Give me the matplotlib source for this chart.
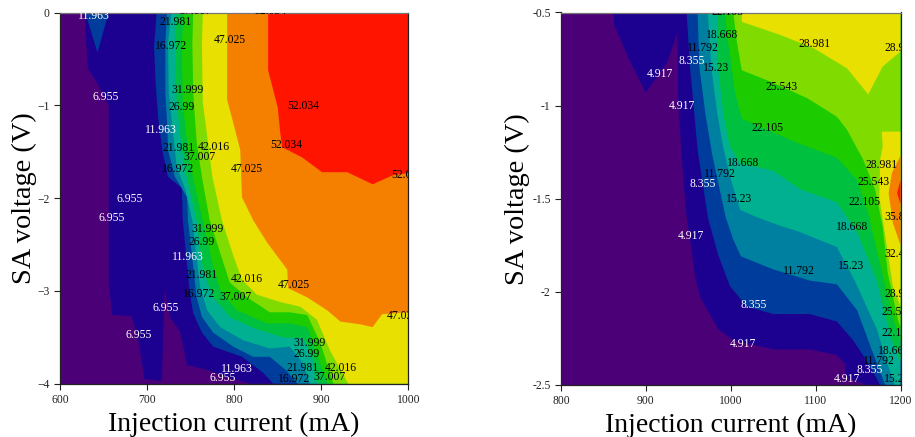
#!/usr/bin/env python3
"""Contour maps of SA voltage vs injection current, two devices."""

import matplotlib

matplotlib.use("Agg")
import matplotlib.pyplot as plt

plt.rcParams["font.family"] = ["Liberation Serif", "DejaVu Serif"]

band_colors = [
    "#4b0078", "#1c0090", "#003c9c", "#0080a0", "#00b090", "#00c040",
    "#1ccc00", "#80dc00", "#e8e000", "#f58000", "#ff1400",
]

# left map: current (mA) and voltage (V) along each contour, walked from top
left_i_06955 = [628, 630, 632, 644, 656, 656, 656, 660, 682, 690, 697, 717, 720, 726, 738, 746, 769, 792, 818, 1000, 1000]
left_v_06955 = [0, -0.29, -0.60, -0.78, -1.0, -1.3, -2.93, -3.26, -3.27, -3.53, -3.95, -3.97, -2.98, -3.28, -3.44, -3.80, -3.85, -3.93, -4, -4, 0]
left_i_11963 = [711, 708, 710, 713, 718, 724, 740, 741, 749, 753, 763, 776, 809, 833, 845, 1000, 1000]
left_v_11963 = [0, -0.37, -0.80, -1.16, -1.51, -1.77, -1.89, -2.24, -3.02, -3.24, -3.45, -3.60, -3.71, -3.88, -4, -4, 0]
left_i_16972 = [723, 721, 721, 723, 724, 732, 746, 747, 757, 763, 776, 799, 822, 841, 859, 873, 1000, 1000]
left_v_16972 = [0, -0.33, -0.87, -1.19, -1.48, -1.77, -1.99, -2.24, -3.07, -3.28, -3.45, -3.60, -3.71, -3.71, -3.85, -4, -4, 0]
left_i_21981 = [728, 724, 725, 729, 734, 744, 752, 761, 769, 784, 810, 841, 864, 879, 887, 1000, 1000]
left_v_21981 = [0, -0.33, -0.87, -1.23, -1.66, -1.91, -2.24, -2.96, -3.21, -3.39, -3.53, -3.62, -3.60, -3.78, -4, -4, 0]
left_i_26990 = [734, 732, 734, 740, 746, 757, 764, 776, 795, 822, 856, 879, 890, 895, 1000, 1000]
left_v_26990 = [0, -0.33, -0.97, -1.48, -1.80, -2.24, -2.77, -3.07, -3.28, -3.40, -3.50, -3.51, -3.74, -4, -4, 0]
left_i_31999 = [742, 740, 741, 747, 753, 764, 775, 784, 803, 838, 864, 884, 896, 907, 1000, 1000]
left_v_31999 = [0, -0.33, -0.97, -1.48, -1.80, -2.24, -2.70, -2.99, -3.21, -3.35, -3.35, -3.39, -3.71, -4, -4, 0]
left_i_37007 = [753, 752, 753, 757, 763, 772, 784, 795, 815, 841, 864, 884, 899, 914, 1000, 1000]
left_v_37007 = [0, -0.33, -0.87, -1.40, -1.77, -2.24, -2.59, -2.91, -3.07, -3.23, -3.23, -3.26, -3.56, -4, -4, 0]
left_i_42016 = [764, 763, 764, 770, 775, 786, 798, 809, 826, 853, 876, 895, 910, 931, 1000, 1000]
left_v_42016 = [0, -0.33, -0.97, -1.40, -1.77, -2.24, -2.59, -2.88, -3.04, -3.12, -3.17, -3.31, -3.64, -4, -4, 0]
left_i_47025 = [792, 792, 801, 807, 809, 822, 838, 861, 862, 884, 907, 922, 945, 959, 970, 1000, 1000]
left_v_47025 = [0, -0.94, -1.26, -1.48, -1.99, -2.24, -2.48, -2.77, -2.97, -3.07, -3.21, -3.33, -3.36, -3.39, -3.25, -3.23, 0]
left_i_52034 = [839, 839, 850, 853, 855, 878, 901, 930, 959, 983, 1000, 1000]
left_v_52034 = [0, -0.62, -1.02, -1.30, -1.45, -1.56, -1.72, -1.72, -1.85, -1.75, -1.73, 0]
left_i_pocket = [629, 643, 656]
left_v_pocket = [0, -0.43, 0]

# right map
right_i_04917 = [862, 862, 881, 900, 925, 937, 938, 943, 948, 954, 958, 964, 985, 1003, 1050, 1093, 1125, 1135, 1135, 1160, 1200, 1200]
right_v_04917 = [-0.5, -0.56, -0.76, -0.93, -0.77, -0.61, -0.97, -1.33, -1.60, -1.78, -1.92, -2.03, -2.20, -2.26, -2.31, -2.31, -2.34, -2.39, -2.46, -2.5, -2.5, -0.5]
right_i_08355 = [948, 952, 957, 961, 973, 985, 999, 1019, 1050, 1093, 1125, 1144, 1160, 1176, 1200, 1200]
right_v_08355 = [-0.5, -0.79, -1.04, -1.24, -1.60, -1.80, -1.97, -2.08, -2.12, -2.12, -2.16, -2.26, -2.37, -2.5, -2.5, -0.5]
right_i_11792 = [961, 963, 970, 978, 994, 1003, 1012, 1050, 1093, 1125, 1149, 1166, 1182, 1200, 1200]
right_v_11792 = [-0.5, -0.79, -1.04, -1.26, -1.60, -1.72, -1.81, -1.88, -1.94, -1.96, -2.10, -2.31, -2.5, -2.5, -0.5]
right_i_15230 = [973, 977, 984, 991, 999, 1011, 1031, 1061, 1082, 1125, 1146, 1172, 1184, 1193, 1200, 1200]
right_v_15230 = [-0.5, -0.79, -1.04, -1.22, -1.38, -1.56, -1.60, -1.65, -1.68, -1.76, -1.94, -2.20, -2.38, -2.5, -2.5, -0.5]
right_i_18668 = [984, 985, 991, 999, 1011, 1050, 1082, 1125, 1149, 1172, 1188, 1200, 1200]
right_v_18668 = [-0.5, -0.79, -1.04, -1.22, -1.31, -1.35, -1.45, -1.52, -1.68, -1.94, -2.24, -2.38, -0.5]
right_i_22105 = [993, 997, 1005, 1013, 1043, 1078, 1125, 1149, 1162, 1176, 1191, 1200, 1200]
right_v_22105 = [-0.5, -0.66, -0.93, -1.07, -1.13, -1.20, -1.28, -1.40, -1.58, -1.85, -2.14, -2.27, -0.5]
right_i_25543 = [1003, 1007, 1013, 1046, 1090, 1125, 1137, 1156, 1170, 1179, 1185, 1197, 1200, 1200]
right_v_25543 = [-0.5, -0.65, -0.81, -0.87, -0.96, -1.06, -1.13, -1.29, -1.45, -1.65, -1.90, -2.15, -2.19, -0.5]
right_i_28981_top = [1013, 1013, 1058, 1097, 1137, 1162, 1179, 1200, 1200]
right_v_28981_top = [-0.5, -0.55, -0.62, -0.69, -0.80, -0.94, -0.79, -0.71, -0.5]
right_i_28981_low = [1200, 1178, 1179, 1176, 1175, 1184, 1191, 1200]
right_v_28981_low = [-1.14, -1.14, -1.22, -1.29, -1.49, -1.76, -1.97, -2.08]
right_i_32418 = [1200, 1190, 1186, 1191, 1200]
right_v_32418 = [-1.27, -1.36, -1.47, -1.63, -1.75]
right_i_35856 = [1200, 1196, 1200]
right_v_35856 = [-1.40, -1.47, -1.53]

# contour labels: current, voltage, text
left_black_i = [733, 756, 842, 795, 728, 746, 740, 880, 860, 736, 777, 760, 736, 814, 999, 769, 763, 763, 815, 868, 760, 802, 994, 886, 883, 879, 922, 869, 909]
left_black_v = [-0.10, 0.02, 0.02, -0.29, -0.36, -0.83, -1.02, -1.01, -1.43, -1.46, -1.45, -1.56, -1.69, -1.69, -1.75, -2.33, -2.47, -2.83, -2.87, -2.94, -3.03, -3.06, -3.27, -3.56, -3.68, -3.83, -3.83, -3.95, -3.93]
left_black_txt = ["21.981", "37.007", "52.034", "47.025", "16.972", "31.999", "26.99", "52.034", "52.034", "21.981", "42.016", "37.007", "16.972", "47.025", "52.034", "31.999", "26.99", "21.981", "42.016", "47.025", "16.972", "37.007", "47.025", "31.999", "26.99", "21.981", "42.016", "16.972", "37.007"]
left_white_i = [639, 652, 716, 680, 659, 747, 721, 690, 803, 787]
left_white_v = [-0.04, -0.91, -1.26, -2.01, -2.21, -2.63, -3.18, -3.48, -3.84, -3.94]
left_white_txt = ["11.963", "6.955", "11.963", "6.955", "6.955", "11.963", "6.955", "6.955", "11.963", "6.955"]

right_black_i = [996, 990, 967, 983, 1099, 1200, 1060, 1043, 1014, 987, 1010, 1178, 1168, 1157, 1200, 1143, 1200, 1142, 1080, 1200, 1197, 1196, 1192, 1175, 1196]
right_black_v = [-0.5, -0.62, -0.69, -0.80, -0.67, -0.69, -0.90, -1.12, -1.31, -1.37, -1.50, -1.32, -1.41, -1.52, -1.60, -1.65, -1.80, -1.86, -1.89, -2.01, -2.11, -2.22, -2.32, -2.37, -2.47]
right_black_txt = ["22.105", "18.668", "11.792", "15.23", "28.981", "28.981", "25.543", "22.105", "18.668", "11.792", "15.23", "28.981", "25.543", "22.105", "35.856", "18.668", "32.418", "15.23", "11.792", "28.981", "25.543", "22.105", "18.668", "11.792", "15.23"]
right_white_i = [954, 917, 943, 967, 953, 1027, 1014, 1164, 1137]
right_white_v = [-0.76, -0.83, -1.0, -1.42, -1.70, -2.07, -2.28, -2.42, -2.47]
right_white_txt = ["8.355", "4.917", "4.917", "8.355", "4.917", "8.355", "4.917", "8.355", "4.917"]

left_xticks = [600, 700, 800, 900, 1000]
left_yticks = [0, -1, -2, -3, -4]
right_xticks = [800, 900, 1000, 1100, 1200]
right_yticks = [-0.5, -1, -1.5, -2, -2.5]
right_yticklabels = ["-0.5", "-1", "-1.5", "-2", "-2.5"]

W, H = 915, 437


def setup_axes(fig, left, top, right, bottom, xlim, ylim, xticks, yticks, ypad):
    """Axes placed by pixel box, with the map's ticks and axis titles."""
    ax = fig.add_axes([left / W, 1 - bottom / H, (right - left) / W, (bottom - top) / H])
    ax.set_xlim(*xlim)
    ax.set_ylim(*ylim)
    ax.set_facecolor(band_colors[0])
    ax.set_xticks(xticks)
    ax.set_yticks(yticks)
    ax.tick_params(length=4.5, width=0.8, labelsize=8.4, pad=3, color="#222222", labelcolor="#222222")
    ax.set_xlabel("Injection current (mA)", fontsize=20, labelpad=4)
    ax.set_ylabel("SA voltage (V)", fontsize=20.4, labelpad=ypad)
    for spine in ax.spines.values():
        spine.set_linewidth(0.9)
        spine.set_color("#222222")
    ax.spines["top"].set_color("#777777")
    return ax


def add_labels(ax, xs, ys, texts, color):
    for x, y, s in zip(xs, ys, texts):
        ax.text(x, y, s, color=color, fontsize=8.4, ha="center", va="center", clip_on=True)


fig = plt.figure(figsize=(W / 100, H / 100), dpi=100)

# Left map
ax1 = setup_axes(fig, 60, 12.7, 408.3, 383.7, (600, 1000), (-4, 0), left_xticks, left_yticks, 0)
left_bands = [
    (1, left_i_06955, left_v_06955),
    (2, left_i_pocket, left_v_pocket),
    (2, left_i_11963, left_v_11963),
    (3, left_i_16972, left_v_16972),
    (4, left_i_21981, left_v_21981),
    (5, left_i_26990, left_v_26990),
    (6, left_i_31999, left_v_31999),
    (7, left_i_37007, left_v_37007),
    (8, left_i_42016, left_v_42016),
    (9, left_i_47025, left_v_47025),
    (10, left_i_52034, left_v_52034),
]
for idx, xs, ys in left_bands:
    ax1.fill(xs, ys, color=band_colors[idx], linewidth=0)
add_labels(ax1, left_black_i, left_black_v, left_black_txt, "black")
add_labels(ax1, left_white_i, left_white_v, left_white_txt, "white")

# Right map
ax2 = setup_axes(fig, 561, 12.5, 900.5, 384.8, (800, 1200), (-2.5, -0.5), right_xticks, right_yticks, 1.5)
ax2.set_yticklabels(right_yticklabels)
right_bands = [
    (1, right_i_04917, right_v_04917),
    (2, right_i_08355, right_v_08355),
    (3, right_i_11792, right_v_11792),
    (4, right_i_15230, right_v_15230),
    (5, right_i_18668, right_v_18668),
    (6, right_i_22105, right_v_22105),
    (7, right_i_25543, right_v_25543),
    (8, right_i_28981_top, right_v_28981_top),
    (8, right_i_28981_low, right_v_28981_low),
    (9, right_i_32418, right_v_32418),
    (10, right_i_35856, right_v_35856),
]
for idx, xs, ys in right_bands:
    ax2.fill(xs, ys, color=band_colors[idx], linewidth=0)
add_labels(ax2, right_black_i, right_black_v, right_black_txt, "black")
add_labels(ax2, right_white_i, right_white_v, right_white_txt, "white")

fig.savefig("out.png", dpi=100)
